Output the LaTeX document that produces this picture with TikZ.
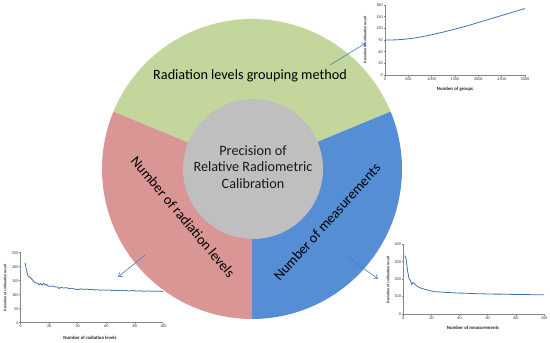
\documentclass[tikz,border=0pt]{standalone}
\usepackage{fontspec}
\setmainfont{Carlito}
\usetikzlibrary{arrows.meta}
\definecolor{segG}{HTML}{C3D69B}
\definecolor{segR}{HTML}{D99694}
\definecolor{segB}{HTML}{558ED5}
\definecolor{hub}{HTML}{BFBFBF}
\definecolor{axgray}{HTML}{868686}
\definecolor{series}{HTML}{3F70AC}
\definecolor{arrowc}{HTML}{4A7EBB}
\tikzset{
  mainlabel/.style={font=\fontsize{14.2}{17}\selectfont, text=black, inner sep=0pt},
  hublabel/.style={font=\fontsize{14.2}{16.7}\selectfont, text=black!90, align=center, inner sep=0pt},
  pointer/.style={draw=arrowc, line width=0.6pt, -{Straight Barb[length=3.5pt,width=5pt]}},
  axisline/.style={draw=axgray, line width=0.5pt},
  dataline/.style={draw=series, line width=0.8pt, line join=round},
  ticklbl/.style={font=\fontsize{4.2}{5}\selectfont, text=black!80, inner sep=0.6pt},
  axtitle/.style={font=\bfseries\fontsize{4.8}{5.5}\selectfont, text=black!85, inner sep=0pt},
  aytitle/.style={font=\bfseries\fontsize{3.8}{4.5}\selectfont, text=black!85, inner sep=0pt, rotate=90},
}
\begin{document}
\begin{tikzpicture}[x=1pt,y=-1pt]
\useasboundingbox (0,0) rectangle (550,343);
% ---- doughnut ----
\begin{scope}[shift={(252,169)}, y=1pt]
  \fill[segG] (0,0) -- (22.5:150) arc[start angle=22.5, end angle=157.5, radius=150] -- cycle;
  \fill[segR] (0,0) -- (157.5:150) arc[start angle=157.5, end angle=270, radius=150] -- cycle;
  \fill[segB] (0,0) -- (270:150) arc[start angle=270, end angle=382.5, radius=150] -- cycle;
  \fill[hub] (1,0) circle[radius=70];
\end{scope}
\node[mainlabel] (grp) at (250,76) {Radiation levels grouping method};
\node[mainlabel, rotate=-50] (nrl) at (183,217) {Number of radiation levels};
\node[mainlabel, rotate=48] (nms) at (327,222) {Number of measurements};
\node[hublabel] (prec) at (253,167) {Precision of\\Relative Radiometric\\Calibration};
% ---- pointers ----
\coordinate (p1s) at (330,65);  \coordinate (p1e) at (366,43);
\coordinate (p2s) at (145,255); \coordinate (p2e) at (118,277);
\coordinate (p3s) at (348,257); \coordinate (p3e) at (378,279);
\draw[pointer] (p1s) -- (p1e);
\draw[pointer] (p2s) -- (p2e);
\draw[pointer] (p3s) -- (p3e);
% ---- chart 1: number of groups ----
\begin{scope}[shift={(385,75)}, x=0.046667pt, y=0.38889pt]
  \draw[axisline] (0,180) -- (0,0) -- (3000,0);
  \foreach \v in {0,30,60,90,120,150,180} {
    \draw[axisline] (0,\v) -- ++(-1.5pt,0pt);
    \node[ticklbl, anchor=east] (ca-\v) at ([xshift=-1.5pt]0,\v) {\v};
  }
  \foreach \v in {0,500,1000,1500,2000,2500,3000} {
    \draw[axisline] (\v,0) -- ++(0pt,-1.5pt);
    \node[ticklbl, anchor=north] (cb-\v) at ([yshift=-1.5pt]\v,0) {\v};
  }
  \draw[dataline] plot[smooth] coordinates {(0,90) (250,90.5) (500,93) (750,97.5) (1000,103.5) (1250,110.5) (1500,118) (1750,126) (2000,135) (2250,144) (2500,153) (2750,162) (3000,171)};
\end{scope}
\node[axtitle] (c1x) at (455,89) {Number of groups};
\node[aytitle] (c1y) at (365,40) {Deviation of calibration result};
% ---- chart 2: number of radiation levels ----
\begin{scope}[shift={(20.7,322.7)}, x=1.426pt, y=0.28pt]
  \draw[axisline] (0,250) -- (0,0) -- (100,0);
  \foreach \v in {0,50,100,150,200,250} {
    \draw[axisline] (0,\v) -- ++(-1.5pt,0pt);
    \node[ticklbl, anchor=east] (da-\v) at ([xshift=-1.5pt]0,\v) {\v};
  }
  \foreach \v in {0,20,40,60,80,100} {
    \draw[axisline] (\v,0) -- ++(0pt,-1.5pt);
    \node[ticklbl, anchor=north] (db-\v) at ([yshift=-1.5pt]\v,0) {\v};
  }
  \draw[dataline] plot coordinates {(3,214) (4,190) (5,168) (6,163) (7,160) (8,155) (9,148) (10,142) (11,143) (12,140) (13,135) (14,141) (15,134) (16,140) (17,135) (18,137) (19,132) (20,130) (22,131) (24,128) (26,127) (27,122) (28,126) (30,124) (32,125) (34,122) (36,123) (38,120) (40,118) (42,121) (44,119) (46,120) (48,118) (50,119) (52,117) (54,118) (56,116) (58,117) (60,116) (62,117) (64,115) (66,116) (68,114) (70,116) (72,114) (74,115) (76,113) (78,115) (80,114) (82,113) (84,114) (86,112) (88,113) (90,113) (92,112) (94,113) (96,112) (98,113) (100,110)};
\end{scope}
\node[axtitle] (c2x) at (90,337.7) {Number of radiation levels};
\node[aytitle] (c2y) at (5,288) {Deviation of calibration result};
% ---- chart 3: number of measurements ----
\begin{scope}[shift={(403.3,314)}, x=1.407pt, y=0.17425pt]
  \draw[axisline] (0,400) -- (0,0) -- (100,0);
  \foreach \v in {0,100,200,300,400} {
    \draw[axisline] (0,\v) -- ++(-1.5pt,0pt);
    \node[ticklbl, anchor=east] (ea-\v) at ([xshift=-1.5pt]0,\v) {\v};
  }
  \foreach \v in {0,20,40,60,80,100} {
    \draw[axisline] (\v,0) -- ++(0pt,-1.5pt);
    \node[ticklbl, anchor=north] (eb-\v) at ([yshift=-1.5pt]\v,0) {\v};
  }
  \draw[dataline] plot coordinates {(1,335) (2,318) (3,250) (4,205) (5,195) (6,168) (7,182) (8,174) (9,165) (10,158) (12,150) (14,145) (16,140) (18,136) (20,132) (22,128) (25,127) (30,124) (35,122) (40,120) (45,119) (50,117) (55,116) (60,115) (65,114) (70,114) (75,113) (80,112) (85,112) (90,111) (95,111) (100,110)};
\end{scope}
\node[axtitle] (c3x) at (473,328) {Number of measurements};
\node[aytitle] (c3y) at (388,280) {Deviation of calibration result};
\end{tikzpicture}
\end{document}
